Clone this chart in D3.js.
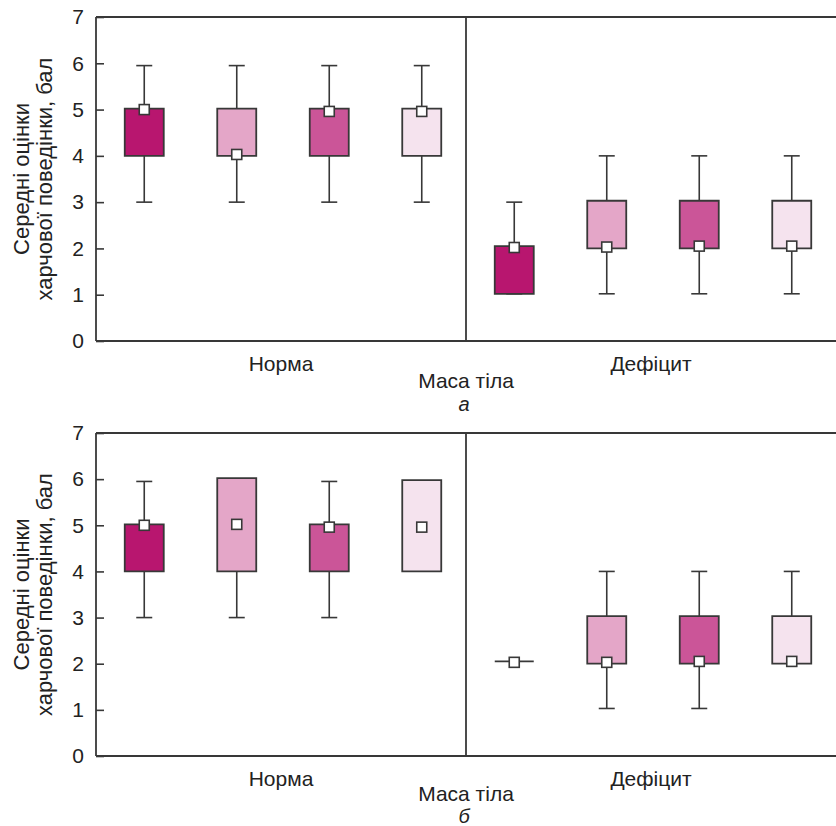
<!DOCTYPE html>
<html>
<head>
<meta charset="utf-8">
<script src="https://cdn.jsdelivr.net/npm/d3@7"></script>
<style>
  body { margin: 0; background: #fff; }
  svg text { font-family: "Liberation Sans", Arial, sans-serif !important; fill: #222; }
</style>
</head>
<body>
<svg id="chart" width="836" height="826"></svg>
<script>
// categories and tick labels
var groups = ["Норма", "Дефіцит"];
var yTicks = [0, 1, 2, 3, 4, 5, 6, 7];
var boxColors = ["#b8166f", "#e4a6c8", "#cb5598", "#f5e3ee"];

// panel a: 4 boxes per group (Норма then Дефіцит)
var lowA  = [3, 3, 3, 3, 1.02, 1.02, 1.02, 1.02];
var q1A   = [4, 4, 4, 4, 1.02, 2, 2, 2];
var q3A   = [5.02, 5.02, 5.02, 5.02, 2.05, 3.03, 3.03, 3.03];
var highA = [5.95, 5.95, 5.95, 5.95, 3, 4, 4, 4];
var meanA = [5, 4.03, 4.96, 4.96, 2.02, 2.03, 2.05, 2.05];

// panel b (null = no whisker)
var lowB  = [3, 3, 3, null, null, 1.03, 1.03, null];
var q1B   = [4, 4, 4, 4, 2.05, 2, 2, 2];
var q3B   = [5.02, 6.02, 5.02, 5.98, 2.05, 3.03, 3.03, 3.03];
var highB = [5.95, null, 5.95, null, null, 4, 4, 4];
var meanB = [5, 5.02, 4.96, 4.96, 2.03, 2.03, 2.05, 2.05];

var ink = "#383838";
var svg = d3.select("#chart");
var left = 96, right = 836;

//x scale: 8 slots over the plot, the two groups split it in half
var x = d3.scaleBand().domain(d3.range(8)).range([left + 2, right + 2]);
var xGroup = d3.scaleBand().domain(groups).range([left, right]);
var boxW = 39, capW = 16, markSize = 10;

function drawPanel(top, bottom, low, q1, q3, high, mean, letter, titleDy, letterDy) {
  var y = d3.scaleLinear().domain([0, 7]).range([bottom, top]);
  var g = svg.append("g");

  //y axis with inward ticks
  var axis = g.append("g")
    .attr("transform", "translate(" + left + ",0)")
    .call(d3.axisLeft(y).tickValues(yTicks).tickFormat(d3.format("d")).tickSize(-8).tickPadding(12));
  axis.select(".domain").remove();
  axis.selectAll(".tick line").attr("stroke", ink).attr("stroke-width", 1.6);
  axis.selectAll(".tick text").style("font-size", "21px");

  //frame: left, top, bottom, divider
  var frame = [
    [left, y(0), left, y(7)],
    [left, y(7), right, y(7)],
    [left, y(0), right, y(0)],
    [xGroup("Дефіцит"), y(0), xGroup("Дефіцит"), y(7)]
  ];
  g.selectAll("line.frame").data(frame).enter().append("line")
    .attr("class", "frame")
    .attr("x1", function(d){ return d[0]; }).attr("y1", function(d){ return d[1]; })
    .attr("x2", function(d){ return d[2]; }).attr("y2", function(d){ return d[3]; })
    .attr("stroke", ink).attr("stroke-width", 1.8);

  var idx = d3.range(8);
  var cx = function(i){ return x(i) + x.bandwidth() / 2; };

  //whiskers (lower and upper) with caps
  [[low, q1], [high, q3]].forEach(function(pair){
    var ends = pair[0], base = pair[1];
    var has = idx.filter(function(i){ return ends[i] != null; });
    g.selectAll(null).data(has).enter().append("line")
      .attr("x1", cx).attr("x2", cx)
      .attr("y1", function(i){ return y(ends[i]); })
      .attr("y2", function(i){ return y(base[i]); })
      .attr("stroke", ink).attr("stroke-width", 1.6);
    g.selectAll(null).data(has).enter().append("line")
      .attr("x1", function(i){ return cx(i) - capW / 2; })
      .attr("x2", function(i){ return cx(i) + capW / 2; })
      .attr("y1", function(i){ return y(ends[i]); })
      .attr("y2", function(i){ return y(ends[i]); })
      .attr("stroke", ink).attr("stroke-width", 1.6);
  });

  //boxes drawn as closed paths so a zero-height box still shows as a line
  g.selectAll("path.box").data(idx).enter().append("path")
    .attr("class", "box")
    .attr("d", function(i){
      var x0 = cx(i) - boxW / 2, x1 = cx(i) + boxW / 2;
      var y0 = y(q3[i]), y1 = y(q1[i]);
      return "M" + x0 + "," + y0 + "H" + x1 + "V" + y1 + "H" + x0 + "Z";
    })
    .attr("fill", function(i){ return boxColors[i % 4]; })
    .attr("stroke", ink).attr("stroke-width", 1.8);

  //mean markers
  g.selectAll("rect.mean").data(idx).enter().append("rect")
    .attr("class", "mean")
    .attr("x", function(i){ return cx(i) - markSize / 2; })
    .attr("y", function(i){ return y(mean[i]) - markSize / 2; })
    .attr("width", markSize).attr("height", markSize)
    .attr("fill", "#fff").attr("stroke", ink).attr("stroke-width", 1.6);

  //group labels, axis title and panel letter
  g.selectAll("text.grp").data(groups).enter().append("text")
    .attr("class", "grp")
    .attr("x", function(d){ return xGroup(d) + xGroup.bandwidth() / 2; })
    .attr("y", bottom + 30)
    .attr("text-anchor", "middle").style("font-size", "21px")
    .text(function(d){ return d; });
  g.append("text")
    .attr("x", xGroup("Дефіцит")).attr("y", bottom + titleDy)
    .attr("text-anchor", "middle").style("font-size", "21px")
    .text("Маса тіла");
  g.append("text")
    .attr("x", xGroup("Дефіцит") - 2).attr("y", bottom + letterDy)
    .attr("text-anchor", "middle").style("font-size", "20px").style("font-style", "italic")
    .text(letter);

  //rotated y title in two lines
  var mid = (top + bottom) / 2;
  var t = g.append("text")
    .attr("transform", "translate(0," + mid + ") rotate(-90)")
    .attr("text-anchor", "middle").style("font-size", "22px");
  t.append("tspan").attr("x", 0).attr("y", 29).text("Середні оцінки");
  t.append("tspan").attr("x", 0).attr("y", 52).text("харчової поведінки, бал");
}

drawPanel(17, 341, lowA, q1A, q3A, highA, meanA, "а", 47, 70);
drawPanel(433, 756, lowB, q1B, q3B, highB, meanB, "б", 45, 67);
</script>
</body>
</html>
